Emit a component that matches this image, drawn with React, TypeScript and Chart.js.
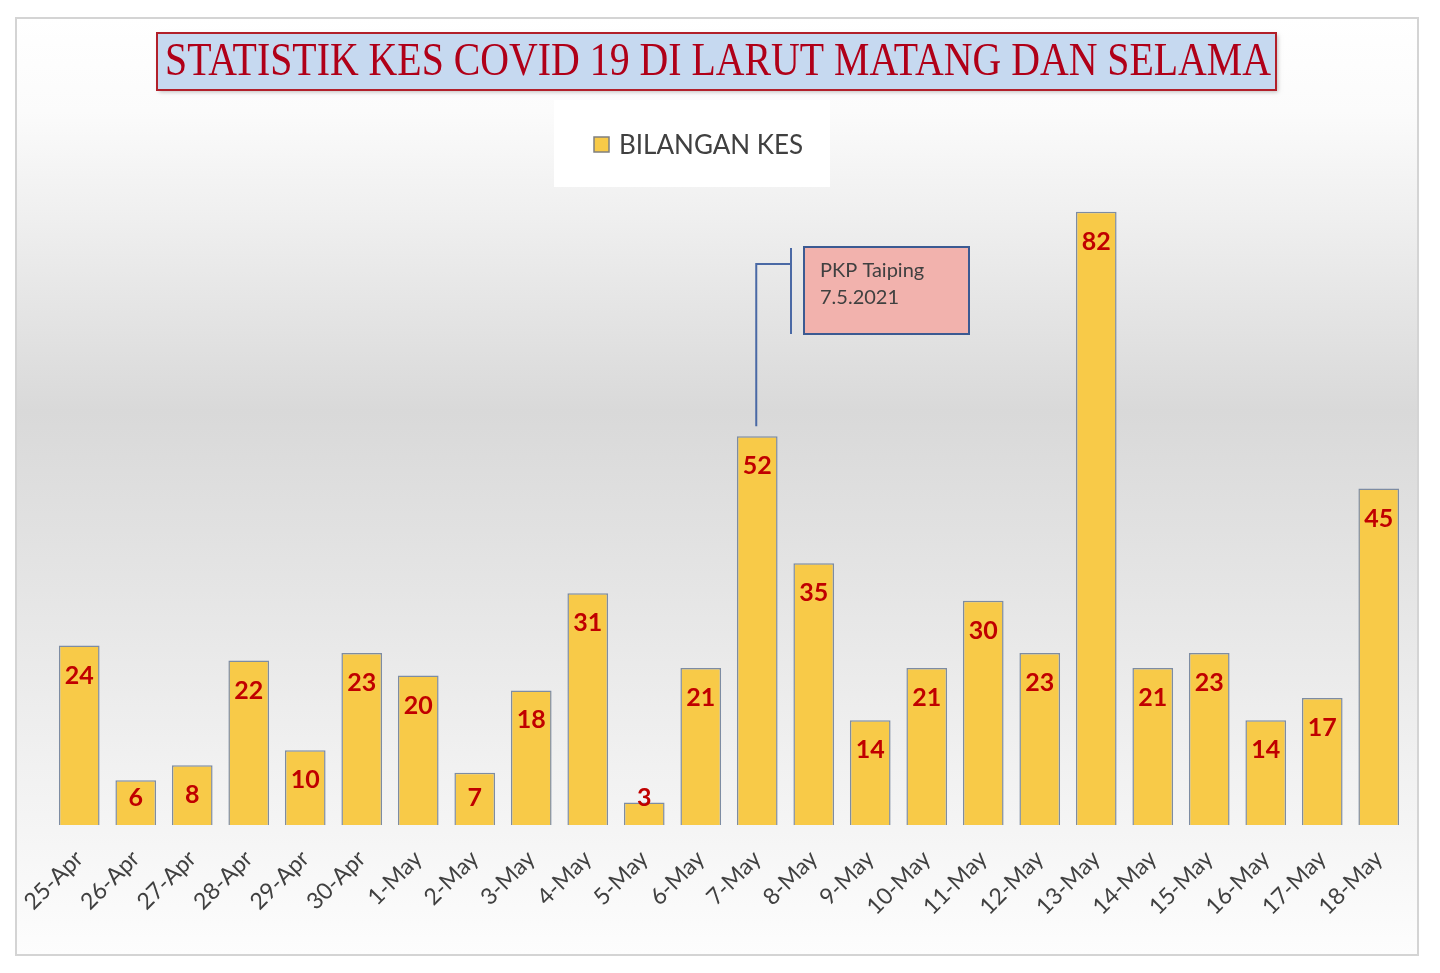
import { useEffect, useRef } from 'react';
import { Chart, registerables } from 'chart.js';

Chart.register(...registerables);

const TITLE = 'STATISTIK KES COVID 19 DI LARUT MATANG DAN SELAMA';
const SERIES_LABEL = 'BILANGAN KES';
const NOTE_LINES = ['PKP Taiping', '7.5.2021'];
const NOTE_INDEX = 12; // 7-May

const dates = [
    '25-Apr', '26-Apr', '27-Apr', '28-Apr', '29-Apr', '30-Apr', '1-May', '2-May',
    '3-May', '4-May', '5-May', '6-May', '7-May', '8-May', '9-May', '10-May',
    '11-May', '12-May', '13-May', '14-May', '15-May', '16-May', '17-May', '18-May'
];
const cases = [24, 6, 8, 22, 10, 23, 20, 7, 18, 31, 3, 21, 52, 35, 14, 21, 30, 23, 82, 21, 23, 14, 17, 45];

const BAR_FILL = '#F8CA48';
const BAR_EDGE = '#7D8CA3';
const LABEL_RED = '#C00000';

// background, frame, title box and legend box
const backdropPlugin = {
    id: 'backdrop',
    beforeDraw: (chart: any) => {
        const ctx = chart.ctx;
        const w = chart.width;
        const h = chart.height;
        ctx.save();
        ctx.fillStyle = '#ffffff';
        ctx.fillRect(0, 0, w, h);

        // gray gradient inside the frame
        const g = ctx.createLinearGradient(0, 10, 0, 947);
        g.addColorStop(0, '#ffffff');
        g.addColorStop(0.1, '#fbfbfb');
        g.addColorStop(0.42, '#d9d9d9');
        g.addColorStop(0.8, '#f1f1f1');
        g.addColorStop(1, '#fdfdfd');
        ctx.fillStyle = g;
        ctx.fillRect(8, 10, 1402, 937);
        ctx.strokeStyle = '#d4d4d4';
        ctx.lineWidth = 2;
        ctx.strokeRect(8, 10, 1402, 937);

        // title box
        ctx.shadowColor = 'rgba(0,0,0,0.25)';
        ctx.shadowBlur = 4;
        ctx.shadowOffsetX = 2;
        ctx.shadowOffsetY = 2;
        ctx.fillStyle = '#C6D9F0';
        ctx.fillRect(149, 25, 1119, 57);
        ctx.shadowColor = 'transparent';
        ctx.strokeStyle = '#B2202A';
        ctx.lineWidth = 2;
        ctx.strokeRect(149, 25, 1119, 57);

        ctx.font = '47px "Liberation Serif", serif';
        ctx.fillStyle = '#B00018';
        ctx.textBaseline = 'middle';
        ctx.textAlign = 'left';
        const tw = ctx.measureText(TITLE).width;
        const target = 1106;
        ctx.save();
        ctx.translate(157, 55);
        ctx.scale(target / tw, 1);
        ctx.fillText(TITLE, 0, 0);
        ctx.restore();

        // legend box
        ctx.fillStyle = '#ffffff';
        ctx.fillRect(546, 92, 276, 87);
        ctx.fillStyle = BAR_FILL;
        ctx.fillRect(586, 129, 15, 15);
        ctx.strokeStyle = '#7f7f7f';
        ctx.lineWidth = 1.5;
        ctx.strokeRect(586, 129, 15, 15);
        ctx.font = '26px Lato, sans-serif';
        ctx.fillStyle = '#404040';
        ctx.fillText(SERIES_LABEL, 611, 138);
        ctx.restore();
    }
};

// value labels and the PKP callout
const overlayPlugin = {
    id: 'overlay',
    afterDatasetsDraw: (chart: any) => {
        const ctx = chart.ctx;
        const meta = chart.getDatasetMeta(0);
        const base = chart.scales.y.getPixelForValue(0);
        ctx.save();
        ctx.font = 'bold 25px Lato, sans-serif';
        ctx.fillStyle = LABEL_RED;
        ctx.textAlign = 'center';
        ctx.textBaseline = 'middle';
        meta.data.forEach((bar: any, i: number) => {
            const y = Math.min(bar.y + 30, base - 27);
            ctx.fillText(String(cases[i]), bar.x, y);
        });

        // callout line from the 7-May bar
        const b = meta.data[NOTE_INDEX];
        const x0 = b.x;
        const bx = 796;
        ctx.strokeStyle = '#4A69A5';
        ctx.lineWidth = 2;
        ctx.beginPath();
        ctx.moveTo(x0 - 1, b.y - 10);
        ctx.lineTo(x0 - 1, 256);
        ctx.lineTo(bx - 13, 256);
        ctx.moveTo(bx - 13, 240);
        ctx.lineTo(bx - 13, 326);
        ctx.stroke();

        ctx.fillStyle = '#F2B2AD';
        ctx.fillRect(bx, 239, 165, 87);
        ctx.strokeStyle = '#3B5A92';
        ctx.strokeRect(bx, 239, 165, 87);
        ctx.font = '20px Lato, sans-serif';
        ctx.fillStyle = '#404040';
        ctx.textAlign = 'left';
        ctx.fillText(NOTE_LINES[0], bx + 16, 263);
        ctx.fillText(NOTE_LINES[1], bx + 16, 290);
        ctx.restore();
    }
};

const App: React.FC = () => {
    const chartRef = useRef<HTMLCanvasElement>(null);

    useEffect(() => {
        if (!chartRef.current) return;
        const ctx = chartRef.current.getContext('2d');
        if (!ctx) return;

        const chart = new Chart(ctx, {
            type: 'bar',
            data: {
                labels: dates,
                datasets: [
                    {
                        label: SERIES_LABEL,
                        data: cases,
                        backgroundColor: BAR_FILL,
                        borderColor: BAR_EDGE,
                        borderWidth: 1.5,
                        barPercentage: 0.72,
                        categoryPercentage: 1
                    }
                ]
            },
            options: {
                animation: false,
                responsive: true,
                maintainAspectRatio: false,
                layout: {
                    padding: { top: 144, left: 43, right: 25, bottom: 0 }
                },
                scales: {
                    x: {
                        grid: { display: false },
                        border: { display: false },
                        ticks: {
                            minRotation: 45,
                            maxRotation: 45,
                            padding: 12,
                            color: '#404040',
                            font: { family: 'Lato, sans-serif', size: 23 }
                        },
                        afterFit: (scale: any) => {
                            scale.height = 140;
                        }
                    },
                    y: {
                        display: false,
                        min: 0,
                        max: 90
                    }
                },
                plugins: {
                    legend: { display: false },
                    title: { display: false },
                    tooltip: { enabled: false }
                }
            },
            plugins: [backdropPlugin, overlayPlugin]
        });

        return () => {
            chart.destroy();
        };
    }, []);

    return (
        <div style={{ width: 1424, height: 957 }}>
            <canvas ref={chartRef}></canvas>
        </div>
    );
};

export default App;
